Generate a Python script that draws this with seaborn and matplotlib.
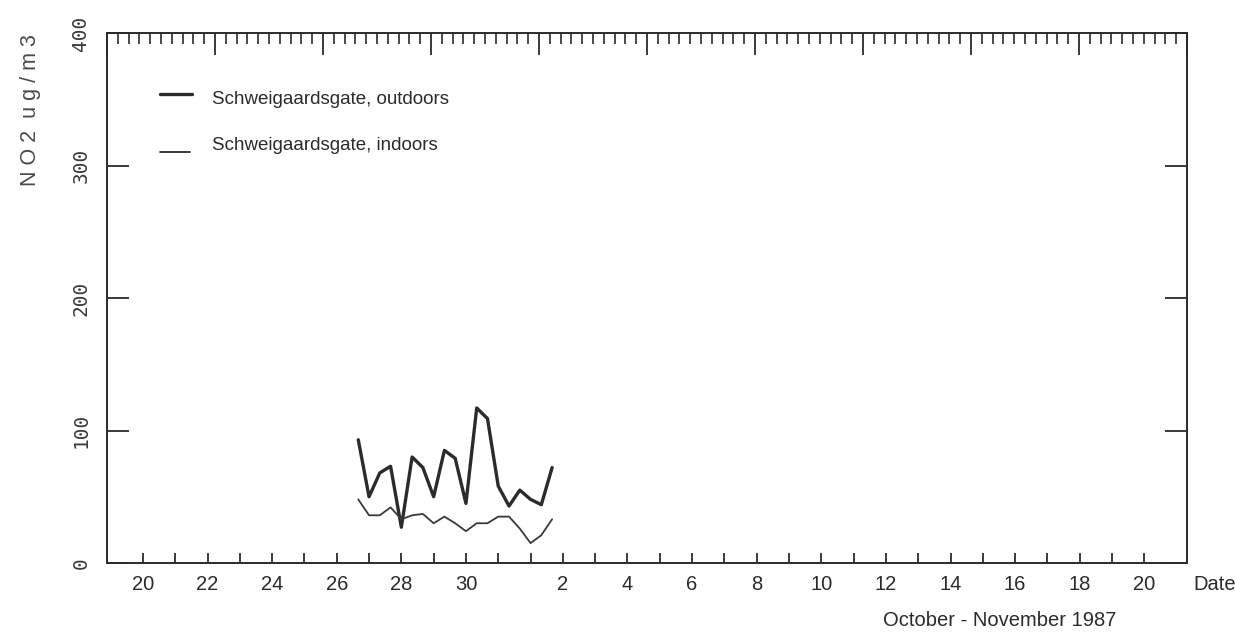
import matplotlib
matplotlib.use("Agg")
import matplotlib.pyplot as plt
from matplotlib.lines import Line2D
import numpy as np
import pandas as pd
import seaborn as sns

# NO2 measurements, Schweigaardsgate, every 8 hours from 26 Oct 1987 16:00
start_time = "1987-10-26 16:00"
n_samples = 19
outdoors = [93, 50, 68, 73, 27, 80, 72, 50, 85, 79, 45, 117, 109, 58, 43, 55, 48, 44, 72]
indoors = [48, 36, 36, 42, 33, 36, 37, 30, 35, 30, 24, 30, 30, 35, 35, 26, 15, 21, 33]

series_names = ["Schweigaardsgate, outdoors", "Schweigaardsgate, indoors"]
y_ticks = [0, 100, 200, 300, 400]
oct_labels = [20, 22, 24, 26, 28, 30]
nov_labels = [2, 4, 6, 8, 10, 12, 14, 16, 18, 20]

times = pd.date_range(start_time, periods=n_samples, freq="8h")
df = pd.DataFrame({
    "time": np.concatenate([times, times]),
    "no2": outdoors + indoors,
    "series": [series_names[0]] * n_samples + [series_names[1]] * n_samples,
})

sns.set_theme(style="white")
plt.rcParams["font.family"] = ["Liberation Sans", "DejaVu Sans"]

ink = "#2b2b2b"
fig = plt.figure(figsize=(12.35, 6.37), dpi=100)
ax = fig.add_axes([107 / 1235, 1 - 563 / 637, (1187 - 107) / 1235, (563 - 33) / 637])

sns.lineplot(data=df, x="time", y="no2", hue="series", size="series",
             sizes={series_names[0]: 2.4, series_names[1]: 1.3},
             palette={series_names[0]: ink, series_names[1]: "#3a3a3a"},
             legend=False, ax=ax, estimator=None)

ax.set_xlim(pd.Timestamp("1987-10-18 21:20"), pd.Timestamp("1987-11-21 07:40"))
ax.set_ylim(0, 400)

for s in ax.spines.values():
    s.set_color(ink)
    s.set_linewidth(1.4)

# Bottom axis: a tick every day, labels on every second date
day_ticks = pd.date_range("1987-10-20", "1987-11-20", freq="D")
ax.set_xticks(day_ticks)
lab_dates = [pd.Timestamp(1987, 10, d) for d in oct_labels] + \
            [pd.Timestamp(1987, 11, d) for d in nov_labels]
labels = [str(t.day) if t in lab_dates else "" for t in day_ticks]
ax.set_xticklabels(labels)
ax.tick_params(axis="x", which="major", direction="in", length=7.5, width=1.3,
               color=ink, labelsize=14.5, labelcolor=ink, pad=9)
ax.set_xlabel("")
ax.set_ylabel("")

# Left/right axis: ticks inward, rotated labels on the left
ax.set_yticks(y_ticks)
ax.set_yticklabels([str(v) for v in y_ticks], rotation=90, va="center",
                   family="DejaVu Sans Mono", fontsize=14, color="#3a3a3a")
ax.tick_params(axis="y", which="major", direction="in", length=16, width=1.3,
               color=ink, left=True, right=True, pad=12)

# Top axis: 100 fine divisions with a longer tick every tenth
top = ax.twiny()
top.set_xlim(0, 100)
top.set_xticks(np.arange(0, 101, 10))
top.set_xticks(np.arange(0, 101, 1), minor=True)
top.tick_params(axis="x", which="major", direction="in", length=16, width=1.3,
                color=ink, top=True, bottom=False, labeltop=False, labelbottom=False)
top.tick_params(axis="x", which="minor", direction="in", length=8, width=1.2,
                color=ink, top=True, bottom=False)
for s in top.spines.values():
    s.set_visible(False)

# Axis titles
fig.text(31 / 1235, 1 - 110 / 637, "N O 2  u g / m 3", rotation=90, ha="center",
         va="center", fontsize=15.5, color="#4a4a4a")
fig.text(1193 / 1235, 1 - 584 / 637, "Date", ha="left", va="center",
         fontsize=14.5, color=ink)
fig.text(1000 / 1235, 1 - 620 / 637, "October - November 1987", ha="center",
         va="center", fontsize=14.5, color=ink)

# Legend
fig.add_artist(Line2D([160 / 1235, 192 / 1235], [1 - 94 / 637, 1 - 94 / 637],
                      color=ink, lw=2.4, transform=fig.transFigure))
fig.add_artist(Line2D([160 / 1235, 190 / 1235], [1 - 152 / 637, 1 - 152 / 637],
                      color=ink, lw=1.3, transform=fig.transFigure))
fig.text(212 / 1235, 1 - 100 / 637, series_names[0], ha="left", va="center",
         fontsize=13.5, color=ink)
fig.text(212 / 1235, 1 - 145 / 637, series_names[1], ha="left", va="center",
         fontsize=13.5, color=ink)

fig.savefig("out.png", dpi=100, facecolor="white")
